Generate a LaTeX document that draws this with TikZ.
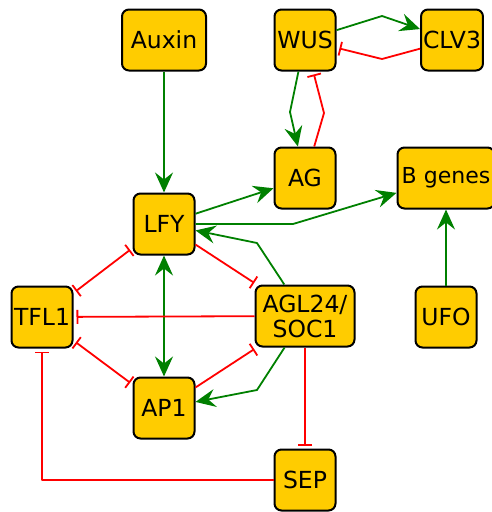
\documentclass[tikz,border=0pt]{standalone}
\usepackage{fontspec}
\setmainfont{DejaVu Sans}
\usetikzlibrary{arrows.meta}
\definecolor{hoa}{HTML}{FFCC00}
\definecolor{kich}{HTML}{008000}
\definecolor{kim}{HTML}{FF0000}
\begin{document}
\begin{tikzpicture}[x=1pt,y=-1pt,line join=round,font=\fontsize{23.5}{25}\selectfont,
	>={Stealth[length=20pt,width=18pt,inset=7pt]},
	gen/.style={draw,line width=2pt,fill=hoa,rounded corners=7pt,minimum width=61pt,minimum height=61pt,inner sep=2pt,align=center},
	kt/.style={draw=kich,line width=1.8pt,->},
	uc/.style={draw=kim,line width=1.8pt,-{Bar[width=14pt]},shorten >=3pt}]
	\useasboundingbox (0,0) rectangle (491,512);
	%Các gen
	\foreach \n/\x/\y in {WUS/305/40,CLV3/452/40,AG/305/178,LFY/164/224,TFL1/42/317,UFO/446/317,AP1/164/408,SEP/305/480}{
		\node[gen] (\n) at (\x,\y) {\n};}
	\node[gen,minimum width=84pt] (Auxin) at (164,40) {Auxin};
	\node[gen,minimum width=97pt,font=\fontsize{22}{25}\selectfont] (B) at (446,178) {B genes};
	\node[gen,minimum width=99pt] (AGL) at (305,316) {AGL24/\\SOC1};
	%Kích hoạt
	\draw[kt] (Auxin)--(LFY);
	\draw[kt] (WUS)--(382,16)--(CLV3);
	\draw[kt] (WUS)--(290,112)--(AG);
	\draw[kt] (LFY)--(AG);
	\draw[kt] (LFY)--(293,224)--(B);
	\draw[kt] (UFO)--(B);
	\draw[kt] (AGL)--(257,243)--(LFY);
	\draw[kt] (AGL)--(257,390)--(AP1);
	\draw[kt,<->] (LFY)--(AP1);
	%Ức chế
	\draw[uc] (CLV3)--(382,59)--(WUS);
	\draw[uc] (AG)--(324,113)--(WUS);
	\draw[uc] (LFY)--(AGL);
	\draw[uc] (AP1)--(AGL);
	\draw[uc] (AGL)--(TFL1);
	\draw[uc] (AGL)--(SEP);
	\draw[uc] (SEP)-|(TFL1);
	\draw[uc,{Bar[width=14pt]}-{Bar[width=14pt]},shorten <=3pt] (TFL1)--(LFY);
	\draw[uc,{Bar[width=14pt]}-{Bar[width=14pt]},shorten <=3pt] (TFL1)--(AP1);
\end{tikzpicture}
\end{document}
